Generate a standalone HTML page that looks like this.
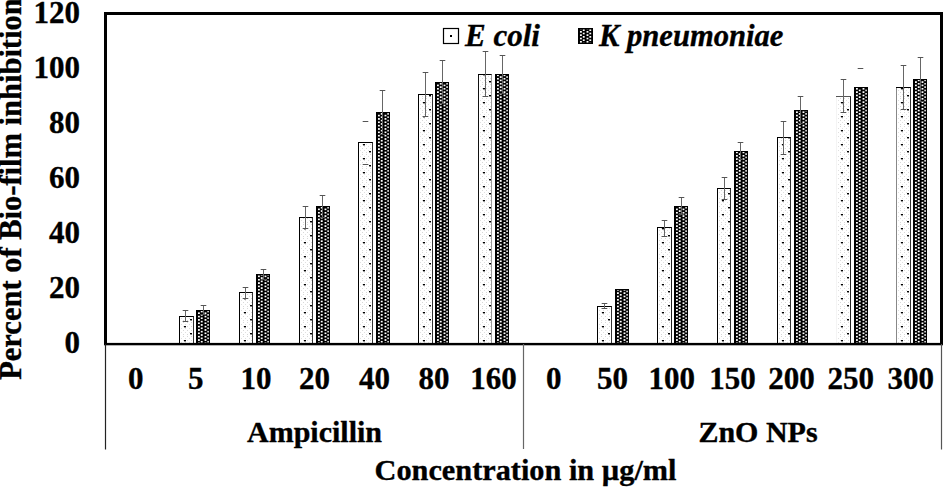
<!DOCTYPE html><html><head><meta charset="utf-8"><style>html,body{margin:0;padding:0;background:#fff;overflow:hidden}svg{display:block}</style></head><body>
<svg width="943" height="487" viewBox="0 0 943 487">
<defs>
<pattern id="pk" patternUnits="userSpaceOnUse" width="6.6" height="3.35" shape-rendering="crispEdges"><rect width="6.6" height="3.35" fill="#000"/><rect x="0.65" y="0.7" width="2.1" height="1.9" fill="#fff"/><rect x="4.15" y="2.375" width="1.4" height="0.975" fill="#fff"/><rect x="4.15" y="0" width="1.4" height="0.725" fill="#fff"/></pattern>
<pattern id="ps" patternUnits="userSpaceOnUse" width="4" height="4"><rect width="4" height="4" fill="#fff"/><rect x="0" y="0" width="1" height="1" fill="#d8d8d8"/><rect x="2" y="2" width="1" height="1" fill="#e0e0e0"/></pattern>
<pattern id="pe" patternUnits="userSpaceOnUse" width="14" height="14"><rect width="14" height="14" fill="url(#ps)"/><rect x="5" y="4" width="2" height="1.4" fill="#000"/><rect x="11" y="11" width="2" height="1.4" fill="#000"/></pattern>
</defs>
<g transform="translate(179,0)"><rect x="0" y="316" width="15" height="27.50" fill="url(#pe)"/><path d="M0.5 343.50V316.5" fill="none" stroke="#000" stroke-width="1"/><path d="M0 316.5H15" fill="none" stroke="#000" stroke-width="1"/><path d="M14.5 316.5V343.50" fill="none" stroke="#333" stroke-width="1"/></g>
<g transform="translate(196,0)"><rect x="-1.0" y="310" width="14" height="33.50" fill="url(#pk)" transform="translate(1.0,0)"/><rect x="0" y="310" width="14" height="1" fill="#000"/><rect x="0" y="310" width="2" height="33.50" fill="#000"/><rect x="12.8" y="310" width="1.2" height="33.50" fill="#000"/></g>
<g transform="translate(239,0)"><rect x="0" y="292" width="14" height="51.50" fill="url(#pe)"/><path d="M0.5 343.50V292.5" fill="none" stroke="#000" stroke-width="1"/><path d="M0 292.5H14" fill="none" stroke="#000" stroke-width="1"/><path d="M13.5 292.5V343.50" fill="none" stroke="#333" stroke-width="1"/></g>
<g transform="translate(256,0)"><rect x="-1.0" y="274" width="14" height="69.50" fill="url(#pk)" transform="translate(1.0,0)"/><rect x="0" y="274" width="14" height="1" fill="#000"/><rect x="0" y="274" width="2" height="69.50" fill="#000"/><rect x="12.8" y="274" width="1.2" height="69.50" fill="#000"/></g>
<g transform="translate(299,0)"><rect x="0" y="217" width="14" height="126.50" fill="url(#pe)"/><path d="M0.5 343.50V217.5" fill="none" stroke="#000" stroke-width="1"/><path d="M0 217.5H14" fill="none" stroke="#000" stroke-width="1"/><path d="M13.5 217.5V343.50" fill="none" stroke="#333" stroke-width="1"/></g>
<g transform="translate(316,0)"><rect x="-1.0" y="206" width="14" height="137.50" fill="url(#pk)" transform="translate(1.0,0)"/><rect x="0" y="206" width="14" height="1" fill="#000"/><rect x="0" y="206" width="2" height="137.50" fill="#000"/><rect x="12.8" y="206" width="1.2" height="137.50" fill="#000"/></g>
<g transform="translate(358,0)"><rect x="0" y="142" width="15" height="201.50" fill="url(#pe)"/><path d="M0.5 343.50V142.5" fill="none" stroke="#000" stroke-width="1"/><path d="M0 142.5H15" fill="none" stroke="#000" stroke-width="1"/><path d="M14.5 142.5V343.50" fill="none" stroke="#333" stroke-width="1"/></g>
<g transform="translate(376,0)"><rect x="-1.0" y="112" width="14" height="231.50" fill="url(#pk)" transform="translate(1.0,0)"/><rect x="0" y="112" width="14" height="1" fill="#000"/><rect x="0" y="112" width="2" height="231.50" fill="#000"/><rect x="12.8" y="112" width="1.2" height="231.50" fill="#000"/></g>
<g transform="translate(418,0)"><rect x="0" y="94" width="15" height="249.50" fill="url(#pe)"/><path d="M0.5 343.50V94.5" fill="none" stroke="#000" stroke-width="1"/><path d="M0 94.5H15" fill="none" stroke="#000" stroke-width="1"/><path d="M14.5 94.5V343.50" fill="none" stroke="#333" stroke-width="1"/></g>
<g transform="translate(435,0)"><rect x="-1.0" y="82" width="14" height="261.50" fill="url(#pk)" transform="translate(1.0,0)"/><rect x="0" y="82" width="14" height="1" fill="#000"/><rect x="0" y="82" width="2" height="261.50" fill="#000"/><rect x="12.8" y="82" width="1.2" height="261.50" fill="#000"/></g>
<g transform="translate(478,0)"><rect x="0" y="74" width="14" height="269.50" fill="url(#pe)"/><path d="M0.5 343.50V74.5" fill="none" stroke="#111" stroke-width="1"/><path d="M0 74.5H14" fill="none" stroke="#000" stroke-width="1"/><path d="M13.5 74.5V343.50" fill="none" stroke="#999" stroke-width="1"/></g>
<g transform="translate(495,0)"><rect x="-1.0" y="74" width="14" height="269.50" fill="url(#pk)" transform="translate(1.0,0)"/><rect x="0" y="74" width="14" height="1" fill="#000"/><rect x="0" y="74" width="2" height="269.50" fill="#000"/><rect x="12.8" y="74" width="1.2" height="269.50" fill="#000"/></g>
<g transform="translate(597,0)"><rect x="0" y="306" width="15" height="37.50" fill="url(#pe)"/><path d="M0.5 343.50V306.5" fill="none" stroke="#000" stroke-width="1"/><path d="M0 306.5H15" fill="none" stroke="#000" stroke-width="1"/><path d="M14.5 306.5V343.50" fill="none" stroke="#333" stroke-width="1"/></g>
<g transform="translate(615,0)"><rect x="-1.0" y="289" width="14" height="54.50" fill="url(#pk)" transform="translate(1.0,0)"/><rect x="0" y="289" width="14" height="1" fill="#000"/><rect x="0" y="289" width="2" height="54.50" fill="#000"/><rect x="12.8" y="289" width="1.2" height="54.50" fill="#000"/></g>
<g transform="translate(657,0)"><rect x="0" y="227" width="15" height="116.50" fill="url(#pe)"/><path d="M0.5 343.50V227.5" fill="none" stroke="#000" stroke-width="1"/><path d="M0 227.5H15" fill="none" stroke="#000" stroke-width="1"/><path d="M14.5 227.5V343.50" fill="none" stroke="#222" stroke-width="1"/></g>
<g transform="translate(674,0)"><rect x="-1.0" y="206" width="14" height="137.50" fill="url(#pk)" transform="translate(1.0,0)"/><rect x="0" y="206" width="14" height="1" fill="#000"/><rect x="0" y="206" width="2" height="137.50" fill="#000"/><rect x="12.8" y="206" width="1.2" height="137.50" fill="#000"/></g>
<g transform="translate(717,0)"><rect x="0" y="188" width="14" height="155.50" fill="url(#pe)"/><path d="M0.5 343.50V188.5" fill="none" stroke="#000" stroke-width="1"/><path d="M0 188.5H14" fill="none" stroke="#000" stroke-width="1"/><path d="M13.5 188.5V343.50" fill="none" stroke="#333" stroke-width="1"/></g>
<g transform="translate(734,0)"><rect x="-1.0" y="151" width="14" height="192.50" fill="url(#pk)" transform="translate(1.0,0)"/><rect x="0" y="151" width="14" height="1" fill="#000"/><rect x="0" y="151" width="2" height="192.50" fill="#000"/><rect x="12.8" y="151" width="1.2" height="192.50" fill="#000"/></g>
<g transform="translate(777,0)"><rect x="0" y="137" width="14" height="206.50" fill="url(#pe)"/><path d="M0.5 343.50V137.5" fill="none" stroke="#000" stroke-width="1"/><path d="M0 137.5H14" fill="none" stroke="#000" stroke-width="1"/><path d="M13.5 137.5V343.50" fill="none" stroke="#333" stroke-width="1"/></g>
<g transform="translate(794,0)"><rect x="-1.0" y="110" width="14" height="233.50" fill="url(#pk)" transform="translate(1.0,0)"/><rect x="0" y="110" width="14" height="1" fill="#000"/><rect x="0" y="110" width="2" height="233.50" fill="#000"/><rect x="12.8" y="110" width="1.2" height="233.50" fill="#000"/></g>
<g transform="translate(836,0)"><rect x="0" y="96" width="15" height="247.50" fill="url(#pe)"/><path d="M0.5 343.50V96.5" fill="none" stroke="#f4f4f4" stroke-width="1"/><path d="M0 96.5H15" fill="none" stroke="#555" stroke-width="1"/><path d="M14.5 96.5V343.50" fill="none" stroke="#222" stroke-width="1"/></g>
<g transform="translate(854,0)"><rect x="-1.0" y="87" width="14" height="256.50" fill="url(#pk)" transform="translate(1.0,0)"/><rect x="0" y="87" width="14" height="1" fill="#000"/><rect x="0" y="87" width="2" height="256.50" fill="#000"/><rect x="12.8" y="87" width="1.2" height="256.50" fill="#000"/></g>
<g transform="translate(896,0)"><rect x="0" y="87" width="15" height="256.50" fill="url(#pe)"/><path d="M0.5 343.50V87.5" fill="none" stroke="#888" stroke-width="1"/><path d="M0 87.5H15" fill="none" stroke="#000" stroke-width="1"/><path d="M14.5 87.5V343.50" fill="none" stroke="#333" stroke-width="1"/></g>
<g transform="translate(913,0)"><rect x="-1.0" y="79" width="14" height="264.50" fill="url(#pk)" transform="translate(1.0,0)"/><rect x="0" y="79" width="14" height="1" fill="#000"/><rect x="0" y="79" width="2" height="264.50" fill="#000"/><rect x="12.8" y="79" width="1.2" height="264.50" fill="#000"/></g>
<line x1="185.5" y1="310.5" x2="185.5" y2="321.5" stroke="#666" stroke-width="1"/><line x1="182.70" y1="310.5" x2="188.30" y2="310.5" stroke="#555" stroke-width="1"/><line x1="182.70" y1="321.5" x2="188.30" y2="321.5" stroke="#555" stroke-width="1"/>
<line x1="245.5" y1="287.5" x2="245.5" y2="298.5" stroke="#666" stroke-width="1"/><line x1="242.70" y1="287.5" x2="248.30" y2="287.5" stroke="#555" stroke-width="1"/><line x1="242.70" y1="298.5" x2="248.30" y2="298.5" stroke="#555" stroke-width="1"/>
<line x1="305.5" y1="206.5" x2="305.5" y2="228.5" stroke="#666" stroke-width="1"/><line x1="302.70" y1="206.5" x2="308.30" y2="206.5" stroke="#555" stroke-width="1"/><line x1="302.70" y1="228.5" x2="308.30" y2="228.5" stroke="#555" stroke-width="1"/>
<line x1="362.70" y1="121.5" x2="368.30" y2="121.5" stroke="#555" stroke-width="1"/><line x1="362.70" y1="164.5" x2="368.30" y2="164.5" stroke="#555" stroke-width="1"/>
<line x1="425.5" y1="72.5" x2="425.5" y2="116.5" stroke="#666" stroke-width="1"/><line x1="422.70" y1="72.5" x2="428.30" y2="72.5" stroke="#555" stroke-width="1"/><line x1="422.70" y1="116.5" x2="428.30" y2="116.5" stroke="#555" stroke-width="1"/>
<line x1="485.5" y1="51.5" x2="485.5" y2="96.5" stroke="#666" stroke-width="1"/><line x1="482.70" y1="51.5" x2="488.30" y2="51.5" stroke="#555" stroke-width="1"/><line x1="482.70" y1="96.5" x2="488.30" y2="96.5" stroke="#555" stroke-width="1"/>
<line x1="604.5" y1="303.5" x2="604.5" y2="308.5" stroke="#666" stroke-width="1"/><line x1="601.70" y1="303.5" x2="607.30" y2="303.5" stroke="#555" stroke-width="1"/><line x1="601.70" y1="308.5" x2="607.30" y2="308.5" stroke="#555" stroke-width="1"/>
<line x1="664.5" y1="220.5" x2="664.5" y2="236.5" stroke="#666" stroke-width="1"/><line x1="661.70" y1="220.5" x2="667.30" y2="220.5" stroke="#555" stroke-width="1"/><line x1="661.70" y1="236.5" x2="667.30" y2="236.5" stroke="#555" stroke-width="1"/>
<line x1="724.5" y1="177.5" x2="724.5" y2="199.5" stroke="#666" stroke-width="1"/><line x1="721.70" y1="177.5" x2="727.30" y2="177.5" stroke="#555" stroke-width="1"/><line x1="721.70" y1="199.5" x2="727.30" y2="199.5" stroke="#555" stroke-width="1"/>
<line x1="783.5" y1="121.5" x2="783.5" y2="154.5" stroke="#666" stroke-width="1"/><line x1="780.70" y1="121.5" x2="786.30" y2="121.5" stroke="#555" stroke-width="1"/><line x1="780.70" y1="154.5" x2="786.30" y2="154.5" stroke="#555" stroke-width="1"/>
<line x1="843.5" y1="79.5" x2="843.5" y2="112.5" stroke="#666" stroke-width="1"/><line x1="840.70" y1="79.5" x2="846.30" y2="79.5" stroke="#555" stroke-width="1"/><line x1="840.70" y1="112.5" x2="846.30" y2="112.5" stroke="#555" stroke-width="1"/>
<line x1="903.5" y1="65.5" x2="903.5" y2="109.5" stroke="#666" stroke-width="1"/><line x1="900.70" y1="65.5" x2="906.30" y2="65.5" stroke="#555" stroke-width="1"/><line x1="900.70" y1="109.5" x2="906.30" y2="109.5" stroke="#555" stroke-width="1"/>
<line x1="203.5" y1="305.5" x2="203.5" y2="314.5" stroke="#666" stroke-width="1"/><line x1="200.70" y1="305.5" x2="206.30" y2="305.5" stroke="#555" stroke-width="1"/><line x1="200.70" y1="314.5" x2="206.30" y2="314.5" stroke="#555" stroke-width="1"/>
<line x1="263.5" y1="269.5" x2="263.5" y2="279.5" stroke="#666" stroke-width="1"/><line x1="260.70" y1="269.5" x2="266.30" y2="269.5" stroke="#555" stroke-width="1"/><line x1="260.70" y1="279.5" x2="266.30" y2="279.5" stroke="#555" stroke-width="1"/>
<line x1="322.5" y1="195.5" x2="322.5" y2="217.5" stroke="#666" stroke-width="1"/><line x1="319.70" y1="195.5" x2="325.30" y2="195.5" stroke="#555" stroke-width="1"/><line x1="319.70" y1="217.5" x2="325.30" y2="217.5" stroke="#555" stroke-width="1"/>
<line x1="382.5" y1="90.5" x2="382.5" y2="134.5" stroke="#666" stroke-width="1"/><line x1="379.70" y1="90.5" x2="385.30" y2="90.5" stroke="#555" stroke-width="1"/><line x1="379.70" y1="134.5" x2="385.30" y2="134.5" stroke="#555" stroke-width="1"/>
<line x1="442.5" y1="60.5" x2="442.5" y2="103.5" stroke="#666" stroke-width="1"/><line x1="439.70" y1="60.5" x2="445.30" y2="60.5" stroke="#555" stroke-width="1"/><line x1="439.70" y1="103.5" x2="445.30" y2="103.5" stroke="#555" stroke-width="1"/>
<line x1="502.5" y1="55.5" x2="502.5" y2="93.5" stroke="#666" stroke-width="1"/><line x1="499.70" y1="55.5" x2="505.30" y2="55.5" stroke="#555" stroke-width="1"/><line x1="499.70" y1="93.5" x2="505.30" y2="93.5" stroke="#555" stroke-width="1"/>
<line x1="681.5" y1="197.5" x2="681.5" y2="214.5" stroke="#666" stroke-width="1"/><line x1="678.70" y1="197.5" x2="684.30" y2="197.5" stroke="#555" stroke-width="1"/><line x1="678.70" y1="214.5" x2="684.30" y2="214.5" stroke="#555" stroke-width="1"/>
<line x1="740.5" y1="142.5" x2="740.5" y2="159.5" stroke="#666" stroke-width="1"/><line x1="737.70" y1="142.5" x2="743.30" y2="142.5" stroke="#555" stroke-width="1"/><line x1="737.70" y1="159.5" x2="743.30" y2="159.5" stroke="#555" stroke-width="1"/>
<line x1="800.5" y1="96.5" x2="800.5" y2="123.5" stroke="#666" stroke-width="1"/><line x1="797.70" y1="96.5" x2="803.30" y2="96.5" stroke="#555" stroke-width="1"/><line x1="797.70" y1="123.5" x2="803.30" y2="123.5" stroke="#555" stroke-width="1"/>
<line x1="857.70" y1="68.5" x2="863.30" y2="68.5" stroke="#555" stroke-width="1"/><line x1="857.70" y1="106.5" x2="863.30" y2="106.5" stroke="#555" stroke-width="1"/>
<line x1="920.5" y1="57.5" x2="920.5" y2="101.5" stroke="#666" stroke-width="1"/><line x1="917.70" y1="57.5" x2="923.30" y2="57.5" stroke="#555" stroke-width="1"/><line x1="917.70" y1="101.5" x2="923.30" y2="101.5" stroke="#555" stroke-width="1"/>
<rect x="104" y="12" width="839" height="3" fill="#000"/>
<rect x="104" y="12" width="3" height="333" fill="#000"/>
<rect x="940" y="12" width="3" height="333" fill="#000"/>
<rect x="104" y="342.9" width="839" height="2.4" fill="#000"/>
<line x1="105.5" y1="344" x2="105.5" y2="449.5" stroke="#222" stroke-width="1.2"/>
<line x1="523.5" y1="344" x2="523.5" y2="449" stroke="#666" stroke-width="1.2"/>
<line x1="941.5" y1="344" x2="941.5" y2="449.5" stroke="#555" stroke-width="1.2"/>
<text x="80" y="353.3" text-anchor="end" style="font-family:'Liberation Serif',serif;font-weight:bold;stroke:#000;stroke-width:0.35px;font-size:31px">0</text>
<text x="80" y="298.3" text-anchor="end" style="font-family:'Liberation Serif',serif;font-weight:bold;stroke:#000;stroke-width:0.35px;font-size:31px">20</text>
<text x="80" y="243.3" text-anchor="end" style="font-family:'Liberation Serif',serif;font-weight:bold;stroke:#000;stroke-width:0.35px;font-size:31px">40</text>
<text x="80" y="188.3" text-anchor="end" style="font-family:'Liberation Serif',serif;font-weight:bold;stroke:#000;stroke-width:0.35px;font-size:31px">60</text>
<text x="80" y="133.3" text-anchor="end" style="font-family:'Liberation Serif',serif;font-weight:bold;stroke:#000;stroke-width:0.35px;font-size:31px">80</text>
<text x="80" y="78.3" text-anchor="end" style="font-family:'Liberation Serif',serif;font-weight:bold;stroke:#000;stroke-width:0.35px;font-size:31px">100</text>
<text x="80" y="23.3" text-anchor="end" style="font-family:'Liberation Serif',serif;font-weight:bold;stroke:#000;stroke-width:0.35px;font-size:31px">120</text>
<text x="135.85" y="388.8" text-anchor="middle" style="font-family:'Liberation Serif',serif;font-weight:bold;stroke:#000;stroke-width:0.35px;font-size:31px">0</text>
<text x="195.75" y="388.8" text-anchor="middle" style="font-family:'Liberation Serif',serif;font-weight:bold;stroke:#000;stroke-width:0.35px;font-size:31px">5</text>
<text x="256.00" y="388.8" text-anchor="middle" style="font-family:'Liberation Serif',serif;font-weight:bold;stroke:#000;stroke-width:0.35px;font-size:31px">10</text>
<text x="314.40" y="388.8" text-anchor="middle" style="font-family:'Liberation Serif',serif;font-weight:bold;stroke:#000;stroke-width:0.35px;font-size:31px">20</text>
<text x="374.50" y="388.8" text-anchor="middle" style="font-family:'Liberation Serif',serif;font-weight:bold;stroke:#000;stroke-width:0.35px;font-size:31px">40</text>
<text x="434.00" y="388.8" text-anchor="middle" style="font-family:'Liberation Serif',serif;font-weight:bold;stroke:#000;stroke-width:0.35px;font-size:31px">80</text>
<text x="493.50" y="388.8" text-anchor="middle" style="font-family:'Liberation Serif',serif;font-weight:bold;stroke:#000;stroke-width:0.35px;font-size:31px">160</text>
<text x="553.80" y="388.8" text-anchor="middle" style="font-family:'Liberation Serif',serif;font-weight:bold;stroke:#000;stroke-width:0.35px;font-size:31px">0</text>
<text x="612.60" y="388.8" text-anchor="middle" style="font-family:'Liberation Serif',serif;font-weight:bold;stroke:#000;stroke-width:0.35px;font-size:31px">50</text>
<text x="671.80" y="388.8" text-anchor="middle" style="font-family:'Liberation Serif',serif;font-weight:bold;stroke:#000;stroke-width:0.35px;font-size:31px">100</text>
<text x="732.50" y="388.8" text-anchor="middle" style="font-family:'Liberation Serif',serif;font-weight:bold;stroke:#000;stroke-width:0.35px;font-size:31px">150</text>
<text x="791.50" y="388.8" text-anchor="middle" style="font-family:'Liberation Serif',serif;font-weight:bold;stroke:#000;stroke-width:0.35px;font-size:31px">200</text>
<text x="850.80" y="388.8" text-anchor="middle" style="font-family:'Liberation Serif',serif;font-weight:bold;stroke:#000;stroke-width:0.35px;font-size:31px">250</text>
<text x="910.70" y="388.8" text-anchor="middle" style="font-family:'Liberation Serif',serif;font-weight:bold;stroke:#000;stroke-width:0.35px;font-size:31px">300</text>
<text x="314.5" y="441.5" text-anchor="middle" style="font-family:'Liberation Serif',serif;font-weight:bold;stroke:#000;stroke-width:0.35px;font-size:30px">Ampicillin</text>
<text x="758" y="442" text-anchor="middle" style="font-family:'Liberation Serif',serif;font-weight:bold;stroke:#000;stroke-width:0.35px;font-size:30px">ZnO NPs</text>
<text x="525.5" y="480" text-anchor="middle" style="font-family:'Liberation Serif',serif;font-weight:bold;stroke:#000;stroke-width:0.35px;font-size:30.3px">Concentration in µg/ml</text>
<text transform="translate(20.9,379.8) rotate(-90)" x="0" y="0" style="font-family:'Liberation Serif',serif;font-weight:bold;stroke:#000;stroke-width:0.35px;font-size:30.5px">Percent of Bio-film inhibition</text>
<rect x="443.5" y="28.5" width="15" height="15" fill="#fff" stroke="#000" stroke-width="1.2"/><rect x="450" y="35" width="2" height="2" fill="#000"/>
<text x="465" y="45.5" style="font-family:'Liberation Serif',serif;font-weight:bold;stroke:#000;stroke-width:0.35px;font-style:italic;font-size:31px">E coli</text>
<g transform="translate(578,0)"><rect x="-1" y="28" width="15" height="16" fill="url(#pk)" transform="translate(1,0)"/><rect x="0.6" y="28.6" width="13.8" height="14.8" fill="none" stroke="#000" stroke-width="1.2"/></g>
<text x="599" y="45.5" style="font-family:'Liberation Serif',serif;font-weight:bold;stroke:#000;stroke-width:0.35px;font-style:italic;font-size:30.6px">K pneumoniae</text>
</svg></body></html>
